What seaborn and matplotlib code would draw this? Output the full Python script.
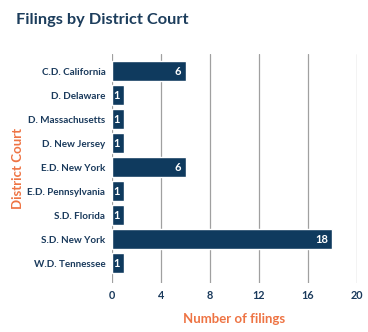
import matplotlib
matplotlib.use("Agg")
import matplotlib.pyplot as plt
import seaborn as sns
import pandas as pd

courts = ["C.D. California", "D. Delaware", "D. Massachusetts", "D. New Jersey",
          "E.D. New York", "E.D. Pennsylvania", "S.D. Florida", "S.D. New York",
          "W.D. Tennessee"]
filings = [6, 1, 1, 1, 6, 1, 1, 18, 1]
x_ticks = [0, 4, 8, 12, 16, 20]

NAVY = "#0f3a5e"
TEXT = "#1a3a5c"
ORANGE = "#ee7444"

sns.set_theme(style="white")
plt.rcParams["font.family"] = ["Lato", "DejaVu Sans"]

df = pd.DataFrame({"court": courts, "filings": filings})

fig = plt.figure(figsize=(3.68, 3.32), dpi=100)
ax = fig.add_axes([0.305, 0.1476, 0.6643, 0.6897])

for t in x_ticks:
    ax.axvline(t, color="#a0a0a0", lw=0.9, zorder=0)

sns.barplot(data=df, x="filings", y="court", color=NAVY, saturation=1,
            width=0.83, ax=ax, zorder=2)

for i, v in enumerate(filings):
    ax.text(v - 0.35, i, str(v), color="white", ha="right", va="center",
            fontsize=8, fontweight="bold", zorder=3)

ax.set_xlim(0, 20)
ax.set_ylim(8.83, -0.71)
ax.set_xticks(x_ticks)
ax.tick_params(axis="both", length=0, labelsize=7.1, labelcolor=TEXT)
ax.tick_params(axis="x", pad=5, labelsize=7.8)
ax.tick_params(axis="y", pad=5)
for lab in ax.get_xticklabels() + ax.get_yticklabels():
    lab.set_fontweight("bold")

for s in ax.spines.values():
    s.set_visible(False)

ax.set_xlabel("Number of filings", color=ORANGE, fontsize=9.5,
              fontweight="bold", labelpad=9)
ax.set_ylabel("District Court", color=ORANGE, fontsize=9.5,
              fontweight="bold")
ax.yaxis.set_label_coords(-0.36, 0.5)

fig.text(16 / 368, 1 - 20 / 332, "Filings by District Court", color="#1c3d5c",
         fontsize=11.8, fontweight="bold", ha="left", va="center")

fig.savefig("out.png", dpi=100)
